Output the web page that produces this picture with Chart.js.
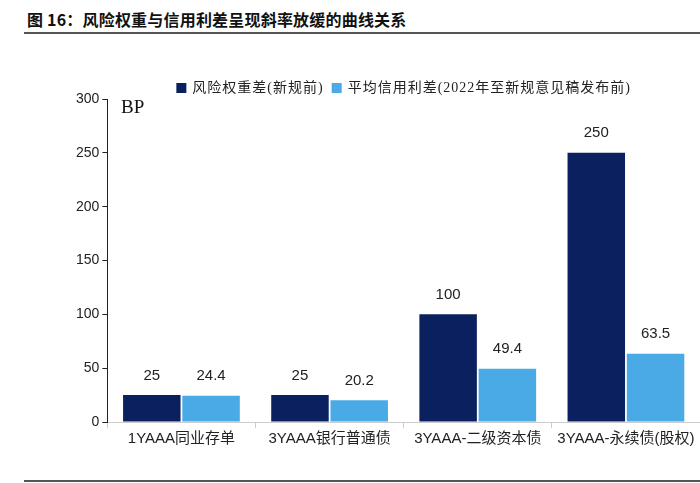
<!DOCTYPE html>
<html>
<head>
<meta charset="utf-8">
<script src="https://cdn.jsdelivr.net/npm/chart.js@4/dist/chart.umd.min.js"></script>
<style>
  body { margin: 0; background: #fff; }
  #wrap { position: relative; width: 700px; height: 483px; overflow: hidden; }
  #title { position: absolute; left: 27px; top: 7px; font: bold 16px "Noto Sans CJK SC", sans-serif; color: #111; letter-spacing: 0.2px; }
  .rule { position: absolute; left: 24px; right: 0; height: 2px; background: #555; }
  #bp { position: absolute; left: 121px; top: 96px; font: 19px "Liberation Serif", serif; color: #111; }
  canvas { position: absolute; left: 0; top: 0; }
</style>
</head>
<body>
<div id="wrap">
  <div id="title">图 16：风险权重与信用利差呈现斜率放缓的曲线关系</div>
  <div class="rule" style="top:32px"></div>
  <div class="rule" style="top:480px"></div>
  <canvas id="chart" width="700" height="483"></canvas>
  <div id="bp">BP</div>
</div>
<script>
// 数据
const categories = ['1YAAA同业存单', '3YAAA银行普通债', '3YAAA-二级资本债', '3YAAA-永续债(股权)'];
const riskWeightSpread = [25, 25, 100, 250];
const avgCreditSpread = [24.4, 20.2, 49.4, 63.5];
const seriesNames = ['风险权重差(新规前)', '平均信用利差(2022年至新规意见稿发布前)'];
const yTicks = [0, 50, 100, 150, 200, 250, 300];

const fontFamily = '"Liberation Sans", "Noto Sans CJK SC", sans-serif';

// 柱顶数值
const valueLabels = {
  id: 'valueLabels',
  afterDatasetsDraw(chart) {
    const ctx = chart.ctx;
    ctx.save();
    ctx.font = '15px ' + fontFamily;
    ctx.fillStyle = '#222';
    ctx.textAlign = 'center';
    ctx.textBaseline = 'bottom';
    chart.data.datasets.forEach((ds, i) => {
      chart.getDatasetMeta(i).data.forEach((bar, j) => {
        ctx.fillText(String(ds.data[j]), bar.x, bar.y - 12);
      });
    });
    ctx.restore();
  }
};

// 图例（画在坐标区上方）
const topLegend = {
  id: 'topLegend',
  afterDraw(chart) {
    const ctx = chart.ctx;
    const area = chart.chartArea;
    ctx.save();
    ctx.font = '14px "Liberation Serif", "Noto Sans CJK SC", serif';
    ctx.letterSpacing = '1px';
    ctx.textBaseline = 'middle';
    const items = chart.data.datasets.map(ds => ({ text: ds.label, color: ds.backgroundColor, w: ctx.measureText(ds.label).width }));
    const total = items.reduce((s, it) => s + 16 + it.w, 0) + 8 * (items.length - 1);
    let x = (area.left + area.right) / 2 - total / 2;
    const y = 88;
    items.forEach(it => {
      ctx.fillStyle = it.color;
      ctx.fillRect(x, y - 5, 10, 10);
      ctx.fillStyle = '#222';
      ctx.fillText(it.text, x + 16, y);
      x += 16 + it.w + 8;
    });
    ctx.restore();
  }
};

new Chart(document.getElementById('chart'), {
  type: 'bar',
  data: {
    labels: categories,
    datasets: [
      { label: seriesNames[0], data: riskWeightSpread, backgroundColor: '#0b215f' },
      { label: seriesNames[1], data: avgCreditSpread, backgroundColor: '#4aaae6' }
    ]
  },
  options: {
    responsive: false,
    animation: false,
    categoryPercentage: 0.8,
    barPercentage: 0.97,
    layout: { padding: { left: 73, right: -8, top: 99, bottom: 33 } },
    plugins: {
      legend: { display: false },
      tooltip: { enabled: false }
    },
    scales: {
      x: {
        grid: { display: true, offset: true, drawOnChartArea: false, tickLength: 6, color: '#ccc' },
        border: { color: '#ccc' },
        ticks: { color: '#222', font: { size: 15, family: fontFamily }, padding: 2 }
      },
      y: {
        min: 0, max: 300,
        afterBuildTicks(axis) { axis.ticks = yTicks.map(v => ({ value: v })); },
        grid: { drawOnChartArea: false, tickLength: 5, color: '#222' },
        border: { color: '#222' },
        ticks: { color: '#222', font: { size: 14, family: fontFamily }, padding: 3 }
      }
    }
  },
  plugins: [valueLabels, topLegend]
});
</script>
</body>
</html>
